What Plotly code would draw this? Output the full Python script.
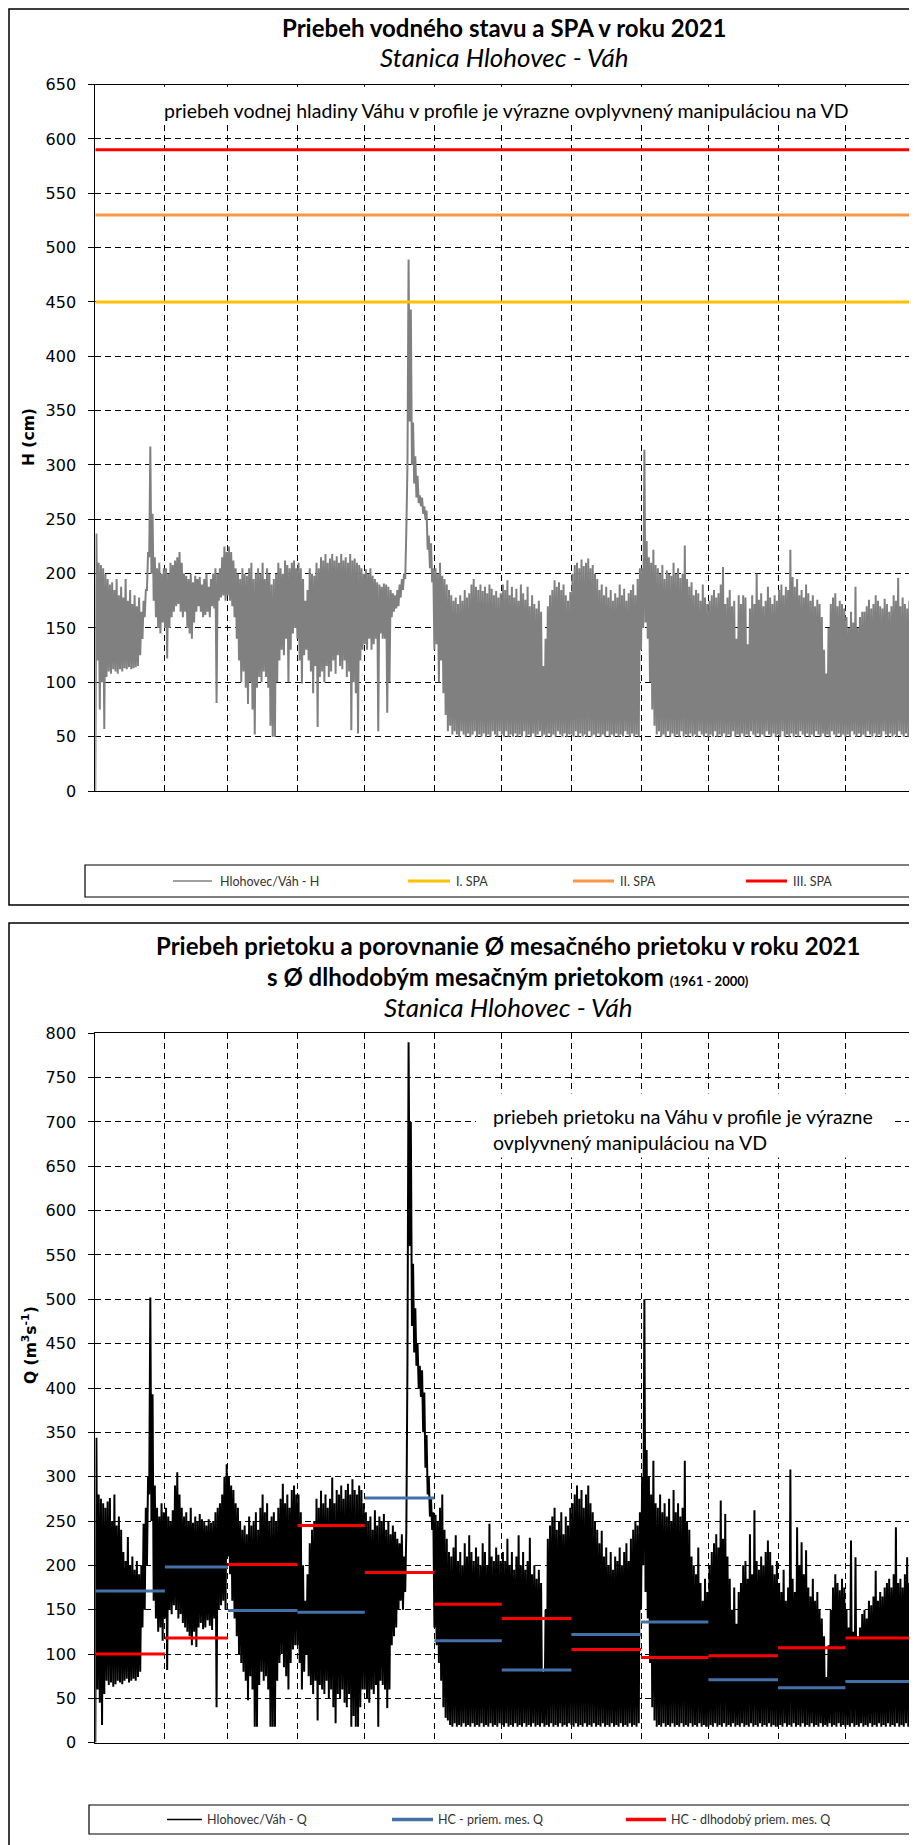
import plotly.graph_objects as go
from datetime import datetime, timedelta

# --- data (Hlohovec / Váh, 2021) ---
MONTH_STARTS = ["2021-01-01", "2021-02-01", "2021-03-01", "2021-04-01", "2021-05-01", "2021-06-01",
                "2021-07-01", "2021-08-01", "2021-09-01", "2021-10-01", "2021-11-01", "2021-12-01",
                "2022-01-01"]

SPA_I = 450
SPA_II = 530
SPA_III = 590

# monthly mean discharge 2021 and long-term (1961-2000) monthly mean
Q_MES_2021 = [171, 198, 149, 147, 276, 115, 82, 122, 136, 71, 62, 69]
Q_MES_DLHODOBY = [100, 118, 201, 245, 192, 156, 140, 105, 96, 98, 107, 118]

# daily low / high of the water level H (cm), one row per month
H_LOW = [
    0, 120, 75, 100, 57, 105, 110, 108, 112, 110, 108, 112, 110, 113, 112, 114, 112, 113, 114, 115, 125, 140, 160, 185, 215, 200, 175, 160, 150, 145, 155,
    150, 122, 150, 160, 165, 170, 172, 165, 160, 165, 150, 145, 140, 155, 165, 170, 165, 160, 162, 165, 160, 170, 168, 81, 175, 178, 180, 175,
    180, 175, 170, 160, 140, 120, 100, 110, 95, 80, 100, 75, 52, 95, 105, 100, 110, 105, 95, 60, 50, 50, 100, 120, 130, 125, 140, 100, 130, 145, 150,
    140, 120, 99, 125, 130, 120, 110, 90, 115, 59, 105, 110, 100, 115, 105, 110, 120, 108, 125, 115, 112, 120, 105, 110, 56, 100, 90, 53, 120, 130,
    135, 130, 140, 130, 135, 140, 55, 145, 140, 140, 72, 100, 160, 165, 168, 170, 178, 185, 195, 300, 340, 300, 283, 270, 265, 262, 255, 250, 222, 205, 192,
    130, 135, 100, 120, 90, 70, 55, 60, 52, 55, 52, 50, 55, 52, 50, 53, 50, 52, 55, 50, 52, 50, 53, 50, 52, 50, 55, 52, 50, 55,
    52, 50, 55, 50, 52, 50, 53, 50, 52, 50, 55, 50, 52, 50, 53, 50, 52, 55, 50, 52, 50, 53, 50, 52, 50, 55, 52, 50, 53, 50, 52,
    52, 50, 55, 50, 53, 50, 52, 50, 55, 50, 52, 50, 53, 50, 52, 50, 55, 50, 52, 50, 53, 50, 52, 50, 55, 52, 50, 53, 50, 52, 50,
    130, 150, 155, 140, 100, 75, 60, 52, 55, 50, 52, 50, 55, 50, 53, 50, 52, 50, 55, 50, 52, 50, 53, 50, 52, 50, 55, 52, 50, 53,
    50, 52, 50, 55, 50, 52, 50, 53, 50, 52, 50, 55, 50, 52, 50, 53, 50, 52, 50, 55, 52, 50, 53, 50, 52, 50, 55, 52, 50, 53, 50,
    52, 50, 55, 50, 52, 50, 53, 50, 52, 50, 55, 52, 50, 53, 50, 52, 50, 55, 52, 50, 53, 50, 52, 50, 55, 52, 50, 53, 50, 52,
    50, 52, 50, 55, 52, 50, 53, 50, 52, 50, 55, 52, 50, 53, 50, 52, 50, 55, 52, 50, 53, 50, 52, 50, 55, 52, 50, 53, 50, 52, 50,
]
H_HIGH = [
    237, 210, 208, 205, 200, 195, 190, 192, 185, 195, 180, 188, 178, 195, 175, 185, 172, 180, 170, 178, 165, 175, 185, 220, 317, 255, 215, 205, 210, 200, 205,
    205, 200, 210, 208, 212, 215, 220, 210, 200, 198, 195, 200, 192, 198, 195, 197, 190, 195, 200, 188, 195, 200, 205, 200, 205, 215, 225, 220,
    225, 220, 212, 205, 200, 195, 205, 200, 198, 205, 210, 195, 200, 205, 200, 210, 195, 205, 200, 190, 195, 200, 210, 205, 200, 212, 208, 205, 210, 212, 205,
    210, 205, 195, 175, 185, 205, 200, 198, 210, 205, 215, 212, 218, 210, 214, 218, 212, 216, 210, 218, 212, 215, 210, 218, 212, 214, 210, 208, 205, 200,
    204, 200, 205, 198, 195, 192, 190, 188, 191, 190, 188, 185, 182, 180, 185, 190, 195, 200, 240, 489, 443, 339, 308, 290, 272, 270, 262, 258, 235, 228, 205,
    205, 200, 210, 198, 195, 190, 185, 180, 175, 178, 172, 180, 175, 185, 178, 182, 190, 195, 188, 185, 190, 184, 188, 182, 190, 186, 180, 184, 178, 182,
    190, 185, 194, 180, 188, 178, 186, 175, 190, 182, 176, 188, 170, 180, 172, 168, 175, 165, 115, 140, 170, 180, 185, 194, 188, 192, 185, 190, 180, 175, 183,
    200, 208, 210, 205, 213, 207, 210, 214, 205, 208, 200, 195, 185, 190, 180, 188, 178, 185, 175, 182, 178, 190, 180, 186, 175, 182, 185, 190, 180, 195, 205,
    205, 314, 230, 215, 210, 222, 208, 205, 200, 208, 195, 203, 200, 198, 210, 200, 205, 196, 200, 226, 195, 188, 192, 180, 185, 182, 175, 190, 178, 172,
    175, 180, 185, 178, 182, 190, 206, 172, 178, 185, 170, 175, 140, 180, 172, 180, 178, 135, 168, 180, 172, 200, 176, 182, 170, 175, 188, 178, 172, 180, 175,
    185, 190, 180, 188, 185, 222, 197, 188, 195, 180, 185, 178, 190, 182, 175, 180, 170, 176, 172, 160, 130, 108, 150, 172, 178, 182, 170, 175, 172, 168,
    160, 150, 165, 155, 188, 150, 160, 165, 165, 170, 176, 168, 172, 180, 175, 170, 168, 177, 172, 165, 170, 180, 175, 196, 170, 178, 172, 168, 175, 180, 176,
]

# daily low / high of the discharge Q (m3/s), one row per month
Q_LOW = [
    0, 60, 45, 20, 55, 70, 65, 68, 63, 66, 70, 68, 66, 70, 72, 68, 70, 72, 70, 74, 80, 130, 150, 200, 280, 250, 160, 140, 125, 130, 115,
    140, 82, 150, 145, 155, 150, 140, 145, 135, 130, 125, 120, 110, 125, 108, 130, 135, 128, 130, 138, 132, 127, 140, 40, 150, 155, 160, 150,
    210, 190, 160, 140, 120, 100, 90, 80, 70, 48, 75, 60, 18, 18, 65, 80, 70, 75, 60, 18, 18, 18, 70, 90, 100, 85, 75, 60, 90, 105, 110,
    110, 90, 60, 80, 100, 75, 65, 55, 70, 25, 65, 60, 55, 70, 50, 60, 40, 22, 55, 50, 60, 45, 40, 55, 18, 30, 18, 18, 40, 60,
    60, 50, 45, 60, 55, 65, 18, 70, 65, 60, 39, 60, 110, 120, 130, 150, 160, 150, 170, 430, 560, 470, 440, 425, 400, 390, 350, 310, 280, 255, 240,
    130, 110, 90, 70, 40, 28, 25, 20, 18, 22, 18, 20, 18, 22, 18, 20, 18, 22, 18, 20, 18, 22, 18, 20, 18, 22, 18, 20, 18, 22,
    20, 18, 22, 18, 20, 18, 22, 18, 20, 18, 22, 18, 20, 18, 22, 18, 20, 18, 22, 18, 20, 18, 22, 18, 20, 18, 22, 18, 20, 18, 22,
    20, 18, 22, 18, 20, 18, 22, 18, 20, 18, 22, 18, 20, 18, 22, 18, 20, 18, 22, 18, 20, 18, 22, 18, 20, 18, 22, 18, 20, 18, 22,
    150, 200, 170, 140, 90, 40, 25, 18, 20, 18, 22, 18, 20, 18, 22, 18, 20, 18, 22, 18, 20, 18, 22, 18, 20, 18, 22, 18, 20, 18,
    18, 20, 18, 22, 18, 20, 18, 22, 18, 20, 18, 22, 18, 20, 18, 22, 18, 20, 18, 22, 18, 20, 18, 22, 18, 20, 18, 22, 18, 20, 18,
    18, 20, 18, 22, 18, 20, 18, 22, 18, 20, 18, 22, 18, 20, 18, 22, 18, 20, 18, 22, 18, 20, 18, 22, 18, 20, 18, 22, 18, 20,
    18, 20, 18, 22, 18, 20, 18, 22, 18, 20, 18, 22, 18, 20, 18, 22, 18, 20, 18, 22, 18, 20, 18, 22, 18, 20, 18, 22, 18, 20, 18,
]
Q_HIGH = [
    344, 280, 275, 270, 265, 272, 276, 250, 280, 245, 255, 240, 215, 205, 232, 200, 210, 195, 205, 190, 200, 247, 265, 300, 502, 393, 290, 265, 255, 270, 260,
    265, 255, 250, 262, 290, 305, 280, 265, 255, 260, 250, 265, 248, 255, 250, 258, 252, 250, 245, 252, 248, 250, 260, 265, 270, 280, 300, 314,
    300, 290, 285, 270, 265, 250, 240, 245, 235, 255, 245, 250, 260, 240, 265, 280, 260, 270, 250, 255, 260, 250, 265, 275, 292, 270, 280, 265, 285, 290, 280,
    280, 260, 200, 160, 190, 225, 240, 250, 275, 265, 284, 270, 280, 265, 275, 299, 270, 285, 280, 290, 275, 285, 292, 280, 297, 285, 280, 290, 285, 270,
    260, 250, 255, 240, 262, 245, 255, 250, 258, 240, 250, 235, 245, 238, 230, 225, 235, 210, 240, 790, 700, 540, 490, 450, 425, 420, 395, 347, 300, 275, 260,
    257, 250, 265, 280, 240, 230, 215, 210, 220, 234, 205, 215, 200, 225, 210, 234, 215, 205, 220, 210, 200, 225, 215, 200, 247, 210, 205, 220, 212, 205,
    215, 205, 230, 200, 215, 195, 210, 234, 200, 215, 195, 205, 231, 190, 200, 185, 195, 180, 80, 150, 230, 245, 255, 265, 240, 250, 260, 235, 255, 245, 265,
    270, 280, 290, 275, 285, 265, 280, 290, 270, 260, 250, 240, 225, 239, 210, 220, 200, 215, 195, 210, 205, 220, 200, 215, 225, 205, 230, 240, 250, 245, 260,
    300, 500, 330, 300, 280, 318, 270, 265, 280, 260, 270, 255, 275, 250, 285, 260, 270, 255, 265, 318, 250, 240, 210, 200, 190, 220, 180, 160, 185, 170,
    200, 215, 225, 235, 220, 273, 230, 258, 210, 185, 150, 175, 134, 170, 180, 200, 205, 185, 235, 190, 262, 205, 195, 210, 200, 215, 228, 215, 200, 190, 205,
    180, 170, 195, 160, 175, 308, 185, 170, 243, 200, 226, 190, 217, 175, 165, 185, 160, 170, 150, 140, 120, 74, 110, 150, 175, 190, 180, 172, 185, 175,
    150, 130, 228, 125, 209, 120, 130, 145, 150, 140, 160, 155, 165, 194, 160, 170, 165, 175, 180, 185, 175, 190, 243, 180, 185, 175, 190, 209, 180, 185, 194,
]

# --- page geometry (pixels of the 917 x 1845 page) ---
W, HGT = 917, 1845
OFF = 8  # the page body adds an 8px margin around the figure


def px(x):
    return (x - OFF) / W


def py(y):
    return 1 - (y - OFF) / HGT


# low at 00:00, high at 12:00 -> dense saw that fills the daily range
t0 = datetime(2021, 1, 1)
x_day = []
for d in range(len(H_LOW)):
    x_day += [t0 + timedelta(days=d), t0 + timedelta(days=d, hours=12)]


def zig(lo, hi):
    out = []
    for a, b in zip(lo, hi):
        out += [a, b]
    return out


x_mes, y_mes, y_dlh = [], [], []
for i in range(12):
    x_mes += [MONTH_STARTS[i], MONTH_STARTS[i + 1], None]
    y_mes += [Q_MES_2021[i], Q_MES_2021[i], None]
    y_dlh += [Q_MES_DLHODOBY[i], Q_MES_DLHODOBY[i], None]

x_full = [MONTH_STARTS[0], MONTH_STARTS[-1]]

fig = go.Figure()

# top chart: water level + flood activity levels
fig.add_trace(go.Scatter(x=x_day, y=zig(H_LOW, H_HIGH), mode="lines", name="Hlohovec/Váh - H",
                         line=dict(color="#808080", width=2, simplify=False), xaxis="x", yaxis="y"))
fig.add_trace(go.Scatter(x=x_full, y=[SPA_I, SPA_I], mode="lines", name="I. SPA",
                         line=dict(color="#FFC000", width=3), xaxis="x", yaxis="y"))
fig.add_trace(go.Scatter(x=x_full, y=[SPA_II, SPA_II], mode="lines", name="II. SPA",
                         line=dict(color="#F79646", width=3), xaxis="x", yaxis="y"))
fig.add_trace(go.Scatter(x=x_full, y=[SPA_III, SPA_III], mode="lines", name="III. SPA",
                         line=dict(color="#FF0000", width=3), xaxis="x", yaxis="y"))

# bottom chart: discharge + monthly means
fig.add_trace(go.Scatter(x=x_day, y=zig(Q_LOW, Q_HIGH), mode="lines", name="Hlohovec/Váh - Q",
                         line=dict(color="black", width=2, simplify=False), xaxis="x2", yaxis="y2"))
fig.add_trace(go.Scatter(x=x_mes, y=y_mes, mode="lines", name="HC - priem. mes. Q",
                         line=dict(color="#4472A8", width=3), xaxis="x2", yaxis="y2"))
fig.add_trace(go.Scatter(x=x_mes, y=y_dlh, mode="lines", name="HC - dlhodobý priem. mes. Q",
                         line=dict(color="#FF0000", width=3), xaxis="x2", yaxis="y2"))

grid = dict(showgrid=True, gridcolor="black", gridwidth=1, griddash="6px,4px",
            showline=True, linecolor="black", linewidth=1, mirror=True,
            zeroline=False, automargin=False)
xcommon = dict(grid, type="date", range=x_full, dtick="M1", tick0="2021-01-01",
               showticklabels=False, ticks="", domain=[px(95.3), px(915)])
ycommon = dict(grid, dtick=50, tick0=0, ticks="outside", ticklen=6, tickcolor="black",
               ticklabelstandoff=9, tickfont=dict(family="DejaVu Sans", size=16, color="black"))

fig.update_layout(
    width=W, height=HGT,
    margin=dict(l=0, r=0, t=0, b=0),
    paper_bgcolor="white", plot_bgcolor="white",
    showlegend=False,
    xaxis=dict(xcommon, anchor="y"),
    yaxis=dict(ycommon, range=[0, 650], domain=[py(791), py(84.6)], anchor="x"),
    xaxis2=dict(xcommon, anchor="y2"),
    yaxis2=dict(ycommon, range=[0, 800], domain=[py(1742.7), py(1033.3)], anchor="x2"),
)

TITLE_FONT = "Lato"
ann = []


def text(x, y, s, size, family=TITLE_FONT, xanchor="center", **kw):
    ann.append(dict(x=x, y=y, xref=kw.pop("xref", "paper"), yref=kw.pop("yref", "paper"), text=s,
                    showarrow=False, xanchor=xanchor, yanchor="middle",
                    font=dict(family=family, size=size, color=kw.pop("color", "black")), **kw))


# titles
text(px(504), py(27), "<b>Priebeh vodného stavu a SPA v roku 2021</b>", 24)
text(px(504), py(57), "<i>Stanica Hlohovec - Váh</i>", 26)
text(px(508), py(945), "<b>Priebeh prietoku a porovnanie Ø mesačného prietoku v roku 2021</b>", 24)
text(px(508), py(977), "<b>s Ø dlhodobým mesačným prietokom </b><b><span style='font-size:13px'>(1961 - 2000)</span></b>", 24)
text(px(508), py(1007), "<i>Stanica Hlohovec - Váh</i>", 26)

# axis titles
text(px(29), py(437), "<b>H (cm)</b>", 15.5, family="DejaVu Sans", textangle=-90)
text(px(29), py(1345), "<b>Q (m<sup>3</sup>s<sup>-1</sup>)</b>", 15.5, family="DejaVu Sans", textangle=-90)

# notes inside the plots
text(px(506), 626, "priebeh vodnej hladiny Váhu v profile je výrazne ovplyvnený manipuláciou na VD", 19.5, yref="y")
text(px(491), 706, "priebeh prietoku na Váhu v profile je výrazne", 19.5, xanchor="left", yref="y2")
text(px(491), 677, "ovplyvnený manipuláciou na VD", 19.5, xanchor="left", yref="y2")

shapes = [
    # chart frames
    dict(type="rect", xref="paper", yref="paper", x0=px(9), x1=px(935), y0=py(905), y1=py(9),
         line=dict(color="black", width=1.5)),
    dict(type="rect", xref="paper", yref="paper", x0=px(9), x1=px(935), y0=py(1870), y1=py(923),
         line=dict(color="black", width=1.5)),
    # white boxes behind the notes
    dict(type="rect", xref="paper", yref="y", x0=px(146), x1=px(866), y0=615, y1=648,
         fillcolor="white", line=dict(width=0), layer="above"),
    dict(type="rect", xref="paper", yref="y2", x0=px(476), x1=px(895), y0=660, y1=732,
         fillcolor="white", line=dict(width=0), layer="above"),
    # legend boxes
    dict(type="rect", xref="paper", yref="paper", x0=px(85), x1=px(913), y0=py(897), y1=py(865),
         line=dict(color="black", width=1.2)),
    dict(type="rect", xref="paper", yref="paper", x0=px(89), x1=px(913), y0=py(1834), y1=py(1805),
         line=dict(color="black", width=1.2)),
]

LEGEND_TOP = [(173, 212, "#808080", 1.5, "Hlohovec/Váh - H", 218),
              (408, 450, "#FFC000", 3, "I. SPA", 454),
              (573, 614, "#F79646", 3, "II. SPA", 618),
              (746, 787, "#FF0000", 3, "III. SPA", 791)]
LEGEND_BOTTOM = [(167, 202, "black", 1.5, "Hlohovec/Váh - Q", 205),
                 (392, 433, "#4472A8", 3.5, "HC - priem. mes. Q", 436),
                 (626, 666, "#FF0000", 3.5, "HC - dlhodobý priem. mes. Q", 669)]

for items, yc in [(LEGEND_TOP, 881), (LEGEND_BOTTOM, 1819.5)]:
    for x0, x1, col, lw, label, xt in items:
        shapes.append(dict(type="line", xref="paper", yref="paper", x0=px(x0), x1=px(x1),
                           y0=py(yc), y1=py(yc), line=dict(color=col, width=lw)))
        text(px(xt), py(yc), label, 12.5, xanchor="left", color="#333333")

fig.update_layout(annotations=ann, shapes=shapes)

fig.write_html("out.html")
